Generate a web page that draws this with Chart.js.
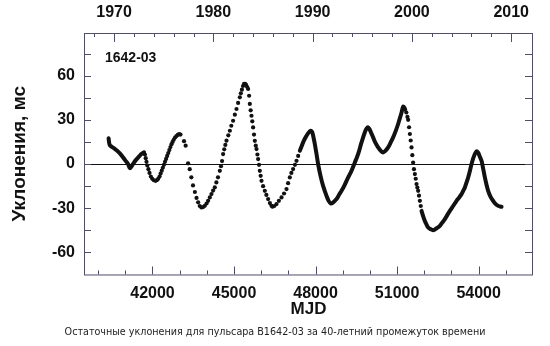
<!DOCTYPE html>
<html>
<head>
<meta charset="utf-8">
<script src="https://cdn.jsdelivr.net/npm/chart.js@4.4.1/dist/chart.umd.min.js"></script>
<style>
  html, body { margin: 0; padding: 0; background: #fff; }
  #wrap { width: 550px; height: 346px; position: relative; }
</style>
</head>
<body>
<div id="wrap"><canvas id="timingChart"></canvas></div>
<script>
// continuous part of the residual curve (null = break between stretches)
const traceMjd = [40385, 40395, 40405, 40420, 40450, 40520, 40600, 40700, 40800, 40900, 41000, 41100, 41170, 41230, 41300, 41400, 41500, 41600, 41690,
  41700,
  47421, 47480, 47542, 47600, 47667, 47730, 47790, 47830, 47880, 47930, 47973, 48035, 48094, 48182, 48278, 48403, 48480, 48561, 48650, 48771, 48860, 48955,
  49050, 49139, 49230, 49323, 49445, 49530, 49603, 49680, 49750, 49820, 49880, 49934, 49990, 50050, 50118, 50200, 50302, 50400, 50486, 50570, 50670, 50760,
  50854, 50950, 51038, 51100, 51163, 51222, 51260, 51300,
  51310,
  51899, 51960, 52021, 52080, 52142, 52230, 52326, 52400, 52480, 52573, 52660, 52757, 52850, 52941, 53060, 53187, 53280, 53371, 53430, 53493, 53555, 53614,
  53680, 53739, 53800, 53861, 53910, 53945, 53990, 54040, 54107, 54170, 54229, 54290, 54350, 54440, 54534, 54620, 54718, 54790, 54843];
const traceRes = [17.5, 16, 14.5, 13.3, 12.4, 11.5, 10.5, 9, 7.2, 5, 2.5, 0, -2.8, -1.5, 0.5, 3, 5, 7, 8,
  null,
  9, 11.8, 14.7, 17, 19.2, 21, 22.3, 22.5, 21.5, 17.5, 13.6, 6.8, 0, -8, -14.8, -21.6, -25, -26.8, -26, -23.8, -21, -18.2,
  -15, -11.4, -8, -4.6, 1.1, 5, 9, 14, 18.1, 22, 24.2, 24.9, 23.5, 21, 18.1, 14.5, 11.3, 9, 7.9, 9, 11.3, 14.5,
  18.1, 22.5, 27.2, 31, 35, 39, 38.5, 37,
  null,
  -31.8, -35.5, -38.6, -41, -43.1, -44.2, -44.9, -44.3, -43.3, -42, -39.8, -37.4, -34.5, -31.8, -28.5, -25, -22.8, -20.4, -18.3, -15.9, -12.5, -9.1,
  -4.5, 0, 3.8, 6.8, 8.3, 8.6, 7.5, 5.2, 2.2, -3.5, -9.1, -14, -18.2, -22.3, -25, -27, -28.4, -28.8, -29];

// separate observations where the sampling was sparse
const dotMjd = [41720, 41750, 41780, 41810, 41850, 41890, 41940, 41990, 42050, 42110, 42160, 42210, 42260, 42300, 42340, 42380, 42420, 42460, 42500,
  42540, 42580, 42620, 42660, 42700, 42740, 42780, 42830, 42880, 42930, 42980, 43030, 43160, 43220, 43310, 43370, 43430, 43490, 43560, 43620, 43680,
  43740, 43800, 43860, 43925, 43990, 44046, 44109, 44170, 44230, 44292, 44350, 44410, 44477, 44520, 44560, 44598, 44640, 44680, 44723, 44790, 44847,
  44900, 44966, 45030, 45091, 45150, 45213, 45250, 45290, 45330, 45370, 45410, 45440, 45480, 45518, 45555, 45581, 45612, 45643, 45672, 45702, 45735,
  45765, 45800, 45827, 45860, 45886, 45920, 45949, 45980, 46011, 46070, 46133, 46190, 46254, 46320, 46379, 46416, 46480, 46563, 46650, 46747, 46840,
  46931, 46990, 47053, 47110, 47174, 47240, 47299, 47360,
  51340, 51380, 51406, 51440, 51470, 51500, 51531, 51560, 51590, 51620, 51653, 51685, 51715, 51745, 51774, 51805, 51837, 51870];
const dotRes = [6.5, 4, 1.5, -1, -3.5, -6, -8.5, -10, -11, -11.4, -11, -10, -8.5, -6.5, -4.5, -2.5, -0.5, 1.5, 3.5,
  5.5, 7.5, 9.5, 11.5, 13.5, 15, 16.5, 18, 19, 19.8, 20.3, 20, 15.5, 12.5, 0.5, -3.5, -9, -14.5, -19, -23, -26,
  -28.5, -29.5, -29.2, -28.4, -26.8, -25, -22.7, -20.4, -18, -15.9, -12.5, -9, -4.6, -1.5, 2, 6.8, 10, 13, 15.9, 19.5, 22.6,
  26, 29.4, 33.5, 37.4, 41.5, 45.3, 48, 50.5, 53, 54.5, 54.5, 53.8, 52.5, 51, 46.4, 40.8, 36.5, 32.8, 29, 24.9, 20,
  15.8, 12.5, 10.2, 6.5, 3.4, -0.5, -4.6, -8, -11.4, -15, -18.2, -21, -23.8, -26.5, -28.4, -29, -28.5, -27.2, -25, -22.7, -20,
  -17, -13, -9.1, -6, -3.4, -0.5, 2.2, 5.5,
  35, 32, 30, 25, 20.4, 16, 11.3, 6, 1, -3.5, -6.8, -10, -13.6, -16, -18.2, -21.5, -25, -28.5];

const mjdLabels = [42000, 45000, 48000, 51000, 54000];
const residualLabels = [-60, -30, 0, 30, 60];
const yearLabels = [1970, 1980, 1990, 2000, 2010];

const toMjd = (year) => Date.UTC(year, 0, 1) / 86400000 + 40587;
const boldFont = { family: "'Liberation Sans', Arial, sans-serif", size: 16, weight: 'bold' };

const frame = {
  id: 'frame',
  beforeDatasetsDraw(chart) {
    const { ctx, chartArea: a, scales } = chart;
    const y0 = Math.round(scales.y.getPixelForValue(0)) + 0.5;
    ctx.save();
    ctx.strokeStyle = '#111';
    ctx.lineWidth = 1;
    ctx.beginPath();
    ctx.moveTo(a.left, y0);
    ctx.lineTo(a.right, y0);
    ctx.stroke();
    ctx.restore();
  },
  afterDraw(chart) {
    const { ctx, chartArea: a, scales } = chart;
    ctx.save();
    ctx.strokeStyle = '#4e4e66';
    ctx.lineWidth = 1;
    ctx.strokeRect(a.left + 0.5, a.top + 0.5, a.right - a.left - 1, a.bottom - a.top);

    ctx.beginPath();
    // left / right ticks every 15
    for (let v = -60; v <= 75; v += 15) {
      const y = Math.round(scales.y.getPixelForValue(v)) + 0.5;
      ctx.moveTo(a.left, y); ctx.lineTo(a.left + 7, y);
      ctx.moveTo(a.right, y); ctx.lineTo(a.right - 8, y);
    }
    // bottom ticks every 1000 MJD
    for (let m = 40000; m <= 55000; m += 1000) {
      const x = Math.round(scales.x.getPixelForValue(m)) + 0.5;
      const len = mjdLabels.includes(m) ? 8 : 4;
      ctx.moveTo(x, a.bottom); ctx.lineTo(x, a.bottom - len);
    }
    // top ticks every 2 years
    for (let yr = 1968; yr <= 2010; yr += 2) {
      const x = Math.round(scales.x.getPixelForValue(toMjd(yr))) + 0.5;
      const len = yr % 10 === 0 ? 9 : 4;
      ctx.moveTo(x, a.top); ctx.lineTo(x, a.top + len);
    }
    ctx.stroke();

    ctx.fillStyle = '#111';
    ctx.font = "bold 14px 'Liberation Sans', Arial, sans-serif";
    ctx.textBaseline = 'middle';
    ctx.fillText('1642-03', a.left + 21, 58);
    ctx.restore();
  }
};

const config = {
  type: 'scatter',
  data: {
    datasets: [
      {
        label: 'trace',
        type: 'line',
        data: traceMjd.map((m, i) => ({ x: m, y: traceRes[i] })),
        borderColor: '#111',
        borderWidth: 4,
        borderCapStyle: 'round',
        borderJoinStyle: 'round',
        pointRadius: 0,
        tension: 0.3,
        spanGaps: false,
        fill: false,
      },
      {
        label: 'dots',
        data: dotMjd.map((m, i) => ({ x: m, y: dotRes[i] })),
        backgroundColor: '#111',
        borderWidth: 0,
        pointRadius: 2.1,
      },
    ],
  },
  options: {
    responsive: true,
    maintainAspectRatio: false,
    animation: false,
    layout: { padding: 0 },
    plugins: {
      legend: { display: false },
      tooltip: { enabled: false },
      title: {
        display: true,
        position: 'bottom',
        text: 'Остаточные уклонения для пульсара B1642-03 за 40-летний промежуток времени',
        color: '#222',
        font: { family: "'DejaVu Sans', sans-serif", size: 9.6, weight: 'normal' },
        padding: { top: 6, bottom: 8 },
      },
    },
    scales: {
      x: {
        type: 'linear',
        position: 'bottom',
        min: 39480,
        max: 56000,
        grid: { display: false, drawTicks: false },
        border: { display: false },
        afterBuildTicks: (s) => { s.ticks = mjdLabels.map((v) => ({ value: v })); },
        afterFit: (s) => { s.height = 46; },
        ticks: { color: '#111', font: boldFont, padding: 10, maxRotation: 0, callback: (v) => String(v) },
        title: { display: true, text: 'MJD', color: '#111', font: { family: boldFont.family, size: 17, weight: 'bold' }, padding: { top: 0, bottom: 1 } },
      },
      x2: {
        type: 'linear',
        position: 'top',
        min: 39480,
        max: 56000,
        grid: { display: false, drawTicks: false },
        border: { display: false },
        afterBuildTicks: (s) => { s.ticks = yearLabels.map((yr) => ({ value: toMjd(yr), label: String(yr) })); },
        afterFit: (s) => { s.height = 33; },
        ticks: { color: '#111', font: boldFont, padding: 11, maxRotation: 0,
          callback: (v) => String(yearLabels.find((yr) => Math.abs(toMjd(yr) - v) < 1)) },
      },
      y: {
        type: 'linear',
        min: -75,
        max: 89,
        grid: { display: false, drawTicks: false },
        border: { display: false },
        afterBuildTicks: (s) => { s.ticks = residualLabels.map((v) => ({ value: v })); },
        afterFit: (s) => { s.width = 84; },
        ticks: { color: '#111', font: boldFont, padding: 9 },
        title: { display: true, text: 'Уклонения, мс', color: '#111', font: { family: boldFont.family, size: 19, weight: 'bold' }, padding: { top: 8, bottom: 0 } },
      },
      yRight: {
        type: 'linear',
        position: 'right',
        min: -75,
        max: 89,
        grid: { display: false, drawTicks: false },
        border: { display: false },
        ticks: { display: false },
        afterFit: (s) => { s.width = 17; },
      },
    },
  },
  plugins: [frame],
};

new Chart(document.getElementById('timingChart'), config);
</script>
</body>
</html>
